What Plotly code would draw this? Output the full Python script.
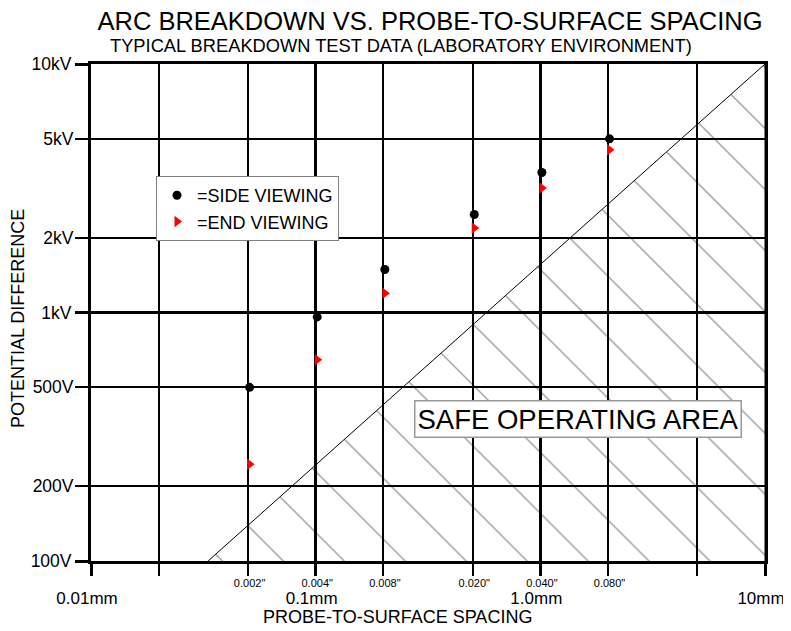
import plotly.graph_objects as go

# ---- data ----
spacing_in = [0.002, 0.004, 0.008, 0.020, 0.040, 0.080]
side_viewing_v = [500, 960, 1490, 2480, 3660, 5000]
end_viewing_v = [245, 645, 1195, 2190, 3170, 4520]
MM_PER_IN = 25.4
spacing_mm = [s * MM_PER_IN for s in spacing_in]
inch_labels = ['0.002"', '0.004"', '0.008"', '0.020"', '0.040"', '0.080"']

mm_major = [0.01, 0.1, 1, 10]
mm_major_labels = ["0.01mm", "0.1mm", "1.0mm", "10mm"]
mm_minor = [0.02, 0.05, 0.2, 0.5, 2, 5]

volt_major = [100, 1000, 10000]
volt_major_labels = ["100V", "1kV", "10kV"]
volt_minor = [200, 500, 2000, 5000]
volt_minor_labels = ["200V", "500V", "2kV", "5kV"]

safe_x = [0.0332, 10, 10]
safe_y = [100, 10000, 100]

FONT = "Liberation Sans, Arial, sans-serif"

# page layout (the page body adds an 8px offset)
OFF = 8
W, H = 791 - OFF, 631 - OFF
PL, PR, PT, PB = 91, 765, 64, 561  # plot area in page pixels


def px(x):
    return (x - PL) / (PR - PL)


def py(y):
    return (PB - y) / (PB - PT)


fig = go.Figure()

fig.add_trace(go.Scatter(
    x=safe_x, y=safe_y, mode="lines", fill="toself",
    line=dict(color="black", width=1),
    fillcolor="rgba(0,0,0,0)",
    fillpattern=dict(shape="\\", size=43.1, solidity=0.025, fgcolor="black",
                     bgcolor="rgba(0,0,0,0)", fillmode="overlay"),
    showlegend=False, hoverinfo="skip"))

fig.add_trace(go.Scatter(
    x=spacing_mm, y=side_viewing_v, mode="markers", name="=SIDE VIEWING",
    marker=dict(symbol="circle", size=9, color="black")))
fig.add_trace(go.Scatter(
    x=spacing_mm, y=end_viewing_v, mode="markers", name="=END VIEWING",
    marker=dict(symbol="triangle-right", size=10, color="#ff0000")))

# helper traces so the overlay label axes exist
fig.add_trace(go.Scatter(x=[1], y=[1000], xaxis="x2", yaxis="y", mode="markers",
                         marker=dict(opacity=0), showlegend=False, hoverinfo="skip"))
fig.add_trace(go.Scatter(x=[1], y=[1000], xaxis="x", yaxis="y2", mode="markers",
                         marker=dict(opacity=0), showlegend=False, hoverinfo="skip"))

fig.update_layout(
    width=W, height=H,
    margin=dict(l=PL - OFF, r=791 - PR, t=PT - OFF, b=631 - PB, autoexpand=False),
    paper_bgcolor="white", plot_bgcolor="white",
    font=dict(family=FONT, color="black"),
    showlegend=True,
    legend=dict(x=px(156), y=py(176), xanchor="left", yanchor="top",
                bgcolor="white", bordercolor="#808080", borderwidth=1,
                font=dict(size=18, family=FONT), itemwidth=30,
                tracegroupgap=0),
    xaxis=dict(type="log", range=[-2, 1], automargin=False,
               tickmode="array", tickvals=mm_major, ticktext=mm_major_labels,
               ticks="outside", ticklen=12, tickwidth=3, tickcolor="black",
               tickfont=dict(size=17), ticklabelstandoff=8, ticklabelshift=-4,
               showgrid=True, gridcolor="black", gridwidth=3,
               showline=True, linecolor="black", linewidth=3, mirror=True,
               zeroline=False,
               minor=dict(tickmode="array", tickvals=mm_minor, ticks="outside",
                          ticklen=12, tickwidth=1.5, tickcolor="black",
                          showgrid=True, gridcolor="black", gridwidth=1.5)),
    xaxis2=dict(type="log", range=[-2, 1], overlaying="x", anchor="y", side="bottom",
                automargin=False,
                tickmode="array", tickvals=spacing_mm, ticktext=inch_labels,
                ticks="", tickfont=dict(size=11), ticklabelstandoff=14,
                showgrid=False, showline=False, zeroline=False),
    yaxis=dict(type="log", range=[2, 4], automargin=False,
               tickmode="array", tickvals=volt_major, ticktext=volt_major_labels,
               ticks="outside", ticklen=13, tickwidth=3, tickcolor="black",
               tickfont=dict(size=17.5),
               showgrid=True, gridcolor="black", gridwidth=3,
               showline=True, linecolor="black", linewidth=3, mirror=True,
               zeroline=False,
               minor=dict(tickmode="array", tickvals=volt_minor, ticks="outside",
                          ticklen=13, tickwidth=1.5, tickcolor="black",
                          showgrid=True, gridcolor="black", gridwidth=1.5)),
    yaxis2=dict(type="log", range=[2, 4], overlaying="y", anchor="x", side="left",
                automargin=False,
                tickmode="array", tickvals=volt_minor, ticktext=volt_minor_labels,
                ticks="outside", ticklen=13, tickwidth=1.5, tickcolor="black",
                tickfont=dict(size=17.5),
                showgrid=False, showline=False, zeroline=False),
    title=dict(text="ARC BREAKDOWN VS. PROBE-TO-SURFACE SPACING",
               font=dict(size=25.5, family=FONT), xref="container", yref="container",
               x=(430 - OFF) / W, y=1 - (21 - OFF) / H, xanchor="center", yanchor="middle"),
)

fig.add_annotation(text="TYPICAL BREAKDOWN TEST DATA (LABORATORY ENVIRONMENT)",
                   xref="paper", yref="paper", x=px(401), y=py(46),
                   xanchor="center", yanchor="middle", showarrow=False,
                   font=dict(size=18.3, family=FONT))
fig.add_annotation(text="PROBE-TO-SURFACE SPACING",
                   xref="paper", yref="paper", x=px(397), y=py(617),
                   xanchor="center", yanchor="middle", showarrow=False,
                   font=dict(size=18, family=FONT))
fig.add_annotation(text="POTENTIAL DIFFERENCE", textangle=-90,
                   xref="paper", yref="paper", x=px(18), y=py(319),
                   xanchor="center", yanchor="middle", showarrow=False,
                   font=dict(size=18, family=FONT))
fig.add_annotation(text="SAFE OPERATING AREA",
                   xref="x", yref="y", x=0.1677, y=2.5734,
                   xanchor="center", yanchor="middle", showarrow=False,
                   font=dict(size=27.5, family=FONT),
                   bgcolor="white", bordercolor="#999999", borderwidth=1.5, borderpad=2)

fig.write_html("out.html")
